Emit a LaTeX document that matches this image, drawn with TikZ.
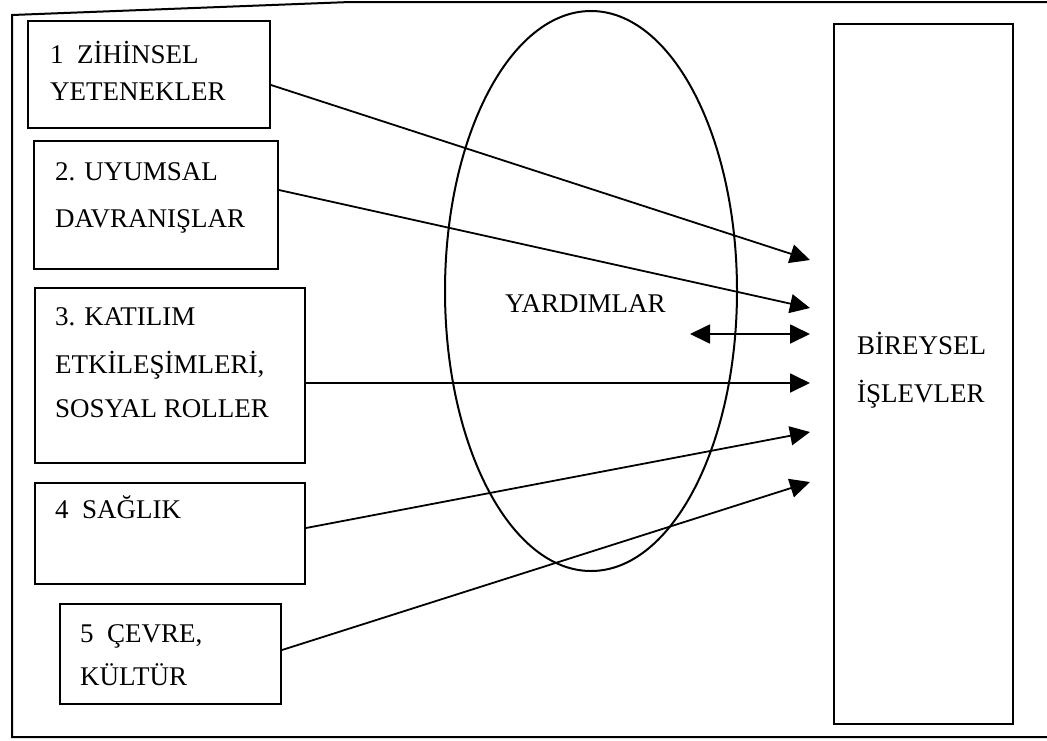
\documentclass[tikz,border=0pt]{standalone}
\usepackage{fontspec}
\setmainfont{Liberation Serif}
\usetikzlibrary{arrows.meta,calc,shapes.geometric}
\begin{document}
\begin{tikzpicture}[x=1pt,y=-1pt,
  box/.style={draw, line width=2pt, inner sep=0pt, anchor=north west},
  lbl/.style={inner sep=0pt, anchor=base west, font=\fontsize{27}{32}\selectfont},
  conn/.style={line width=1.8pt, -{Triangle[length=20pt,width=19pt]}},
  dconn/.style={line width=1.8pt, {Triangle[length=20pt,width=19pt]}-{Triangle[length=20pt,width=19pt]}}]
\useasboundingbox (0,0) rectangle (1047,740);
% outer frame
\draw[line width=2pt] (1047,2) -- (350,2) -- (12,15) -- (12,737) -- (1047,737);
% ellipse
\node[draw, line width=2pt, ellipse, minimum width=292, minimum height=560, inner sep=0pt] (ell) at (591,291) {};
% left boxes
\node[box, minimum width=242, minimum height=107] (b1) at (27,20) {};
\node[box, minimum width=244, minimum height=128] (b2) at (33,140) {};
\node[box, minimum width=270, minimum height=175] (b3) at (34,287) {};
\node[box, minimum width=270, minimum height=101] (b4) at (34,482) {};
\node[box, minimum width=221, minimum height=100] (b5) at (59,603) {};
% right box
\node[box, minimum width=179, minimum height=700] (br) at (833,23) {};
% labels
\node[lbl] (l1a) at (50,63) {1\ \ ZİHİNSEL};
\node[lbl] (l1b) at (50,100) {YETENEKLER};
\node[lbl] (l2a) at (55,180) {2. UYUMSAL};
\node[lbl] (l2b) at (55,227) {DAVRANIŞLAR};
\node[lbl] (l3a) at (55,325) {3. KATILIM};
\node[lbl] (l3b) at (55,373) {ETKİLEŞİMLERİ,};
\node[lbl] (l3c) at (55,417) {SOSYAL ROLLER};
\node[lbl] (l4a) at (55,518) {4\ \ SAĞLIK};
\node[lbl] (l5a) at (80,642) {5\ \ ÇEVRE,};
\node[lbl] (l5b) at (80,685) {KÜLTÜR};
\node[lbl] (ly) at (505,312) {YARDIMLAR};
\node[lbl] (lr1) at (857,354) {BİREYSEL};
\node[lbl] (lr2) at (857,402) {İŞLEVLER};
% arrow tip coordinates
\coordinate (t1) at (810,260);
\coordinate (t2) at (810,308);
\coordinate (td) at (810,334);
\coordinate (sd) at (690,334);
\coordinate (t3) at (810,383);
\coordinate (t4) at (810,432);
\coordinate (t5) at (810,482);
% connectors
\draw[conn] ([yshift=-65pt]b1.north east) -- (t1);
\draw[conn] ([yshift=-50pt]b2.north east) -- (t2);
\draw[dconn] (sd) -- (td);
\draw[conn] ([yshift=-96pt]b3.north east) -- (t3);
\draw[conn] ([yshift=-46pt]b4.north east) -- (t4);
\draw[conn] ([yshift=-47pt]b5.north east) -- (t5);
\end{tikzpicture}
\end{document}
